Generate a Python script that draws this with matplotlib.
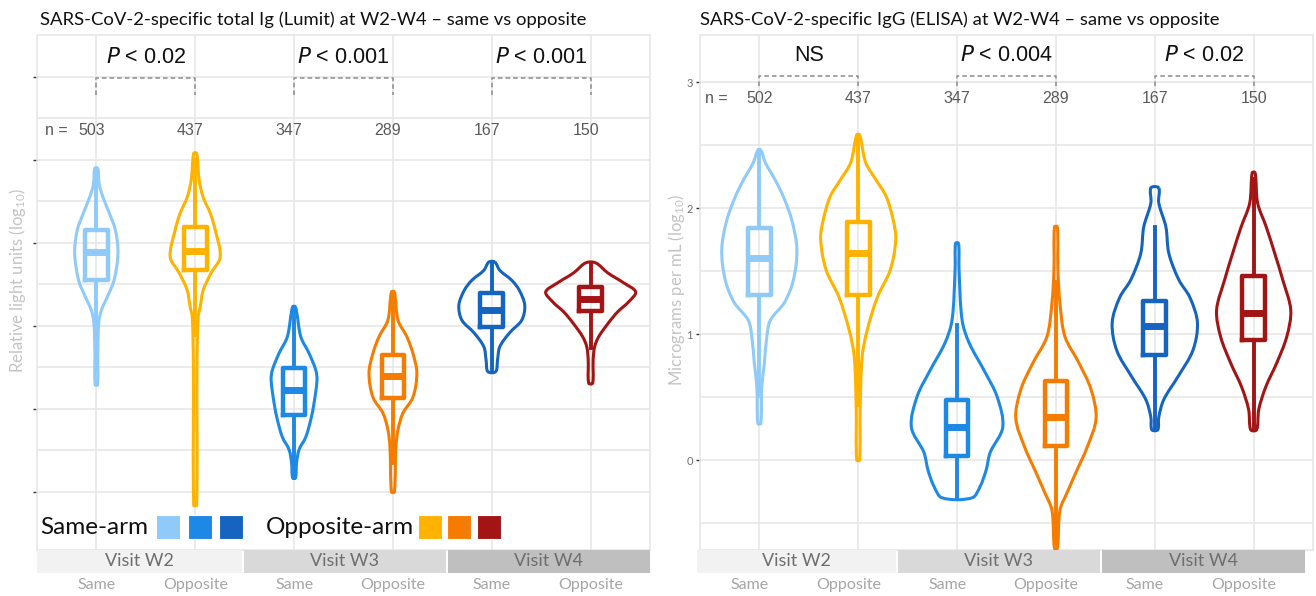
import numpy as np
import matplotlib.pyplot as plt
from matplotlib.patches import Rectangle, PathPatch
from matplotlib.path import Path
from matplotlib.transforms import blended_transform_factory

plt.rcParams["font.family"] = ["Lato", "DejaVu Sans"]
plt.rcParams["mathtext.default"] = "regular"

# ---- data ----
groups = ["Same", "Opposite", "Same", "Opposite", "Same", "Opposite"]
visits = ["Visit W2", "Visit W3", "Visit W4"]
colors = ["#90CAF9", "#FFB300", "#1E88E5", "#F57C00", "#1565C0", "#A31515"]

lumit_n = [503, 437, 347, 289, 167, 150]
lumit_p = ["$\\it{P}$ < 0.02", "$\\it{P}$ < 0.001", "$\\it{P}$ < 0.001"]
# violin outline: value (log10 RLU) and half width (category units)
lumit_vy = [
    [6.90, 6.70, 6.55, 6.36, 6.16, 5.88, 5.55, 5.35, 5.19, 5.04, 4.71, 4.29],
    [7.08, 6.76, 6.55, 6.36, 6.16, 5.83, 5.64, 5.43, 5.23, 5.11, 4.50, 2.84],
    [5.23, 4.87, 4.67, 4.47, 4.35, 4.07, 3.87, 3.66, 3.51, 3.35, 3.17],
    [5.41, 5.07, 4.87, 4.67, 4.43, 4.14, 3.95, 3.75, 3.54, 3.00],
    [5.77, 5.67, 5.55, 5.43, 5.25, 5.07, 4.92, 4.75, 4.59, 4.45],
    [5.76, 5.64, 5.52, 5.41, 5.29, 5.17, 5.04, 4.87, 4.75, 4.59, 4.31],
]
lumit_vw = [
    [.015, .03, .068, .131, .192, .219, .179, .111, .051, .025, .015, .012],
    [.015, .04, .081, .152, .202, .253, .162, .081, .051, .03, .018, .015],
    [.015, .068, .152, .219, .232, .202, .169, .118, .051, .025, .015],
    [.015, .051, .141, .202, .242, .202, .101, .051, .03, .015],
    [.03, .081, .202, .278, .333, .303, .182, .081, .058, .04],
    [.051, .172, .333, .455, .384, .273, .182, .081, .04, .025, .02],
]
lumit_q1 = [5.55, 5.67, 3.93, 4.13, 4.99, 5.18]
lumit_med = [5.89, 5.90, 4.23, 4.40, 5.19, 5.33]
lumit_q3 = [6.16, 6.19, 4.49, 4.65, 5.40, 5.47]
lumit_lo = [4.63, 4.89, 3.17, 3.35, 4.45, 4.74]
lumit_hi = [6.88, 7.00, 5.23, 5.41, 5.77, 5.76]

elisa_n = [502, 437, 347, 289, 167, 150]
elisa_p = ["NS", "$\\it{P}$ < 0.004", "$\\it{P}$ < 0.02"]
elisa_vy = [
    [2.46, 2.36, 2.22, 2.09, 1.90, 1.67, 1.43, 1.25, 1.11, 0.98, 0.77, 0.58, 0.29],
    [2.58, 2.36, 2.22, 2.09, 1.90, 1.75, 1.51, 1.29, 1.03, 0.82, 0.40, 0.00],
    [1.72, 1.51, 1.11, 0.93, 0.71, 0.50, 0.26, 0.06, -0.08, -0.21, -0.30],
    [1.85, 1.51, 1.25, 0.98, 0.77, 0.56, 0.33, 0.10, -0.08, -0.26, -0.40, -0.70],
    [2.16, 2.04, 1.85, 1.64, 1.43, 1.29, 1.09, 0.87, 0.66, 0.48, 0.34, 0.24],
    [2.28, 2.04, 1.85, 1.64, 1.43, 1.19, 0.98, 0.77, 0.58, 0.40, 0.24],
]
elisa_vw = [
    [.015, .061, .162, .243, .33, .38, .345, .254, .112, .076, .051, .025, .015],
    [.015, .076, .183, .284, .355, .38, .325, .193, .091, .04, .02, .015],
    [.015, .02, .051, .122, .274, .406, .462, .335, .294, .233, .152],
    [.015, .02, .04, .091, .233, .355, .406, .315, .213, .112, .04, .015],
    [.04, .04, .112, .142, .243, .355, .431, .385, .233, .091, .04, .03],
    [.015, .04, .127, .213, .294, .375, .335, .233, .122, .051, .03],
]
elisa_q1 = [1.31, 1.31, 0.03, 0.11, 0.83, 0.95]
elisa_med = [1.60, 1.64, 0.26, 0.34, 1.06, 1.17]
elisa_q3 = [1.84, 1.89, 0.48, 0.63, 1.26, 1.46]
elisa_lo = [0.51, 0.44, -0.30, -0.67, 0.24, 0.24]
elisa_hi = [2.46, 2.58, 1.07, 1.41, 1.85, 2.23]

W, H = 1316, 596
fig = plt.figure(figsize=(W / 100, H / 100), dpi=100)


def fx(px):
    return px / W


def fy(py):
    return 1 - py / H


def smooth_closed(pts):
    # closed curve through the outline points (chord-weighted tangents, no overshoot at tips)
    n = len(pts)
    tang = []
    for k in range(n):
        p0, p1, p2 = pts[k - 1], pts[k], pts[(k + 1) % n]
        d0 = np.hypot(*(p1 - p0))
        d1 = np.hypot(*(p2 - p1))
        tang.append((p2 - p0) / max(d0 + d1, 1e-9))
    verts = [pts[0]]
    codes = [Path.MOVETO]
    for k in range(n):
        p1, p2 = pts[k], pts[(k + 1) % n]
        d = np.hypot(*(p2 - p1))
        verts += [p1 + tang[k] * d / 3.0, p2 - tang[(k + 1) % n] * d / 3.0, p2]
        codes += [Path.CURVE4] * 3
    return Path(np.array(verts), codes)


def panel(left_px, vy, vw, q1, med, q3, lo, hi, ylim, majors, minors):
    ax = fig.add_axes([fx(left_px), fy(550), 613 / W, 515 / H])
    ax.set_xlim(-0.6, 5.6)
    ax.set_ylim(*ylim)
    ax.set_xticks(range(6))
    ax.set_xticklabels([])
    ax.set_yticks(majors)
    ax.set_yticks(minors, minor=True)
    ax.tick_params(axis="x", length=0)
    ax.tick_params(axis="y", which="major", length=3, color="#333333", width=1)
    ax.tick_params(axis="y", which="minor", length=0)
    ax.grid(True, which="both", color="#e6e6e6", lw=1.1)
    ax.set_axisbelow(True)
    for s in ax.spines.values():
        s.set_color("#e6e6e6")
        s.set_linewidth(1.1)

    sx = 99.0
    sy = 515.0 / (ylim[1] - ylim[0])
    for i in range(6):
        y = np.asarray(vy[i])
        w = np.asarray(vw[i])
        # smooth in pixel-like units so the axis scales do not distort the curve
        xs = np.concatenate([i + w, (i - w)[::-1]]) * sx
        ys = np.concatenate([y, y[::-1]]) * sy
        path = smooth_closed(np.column_stack([xs, ys]))
        path = Path(path.vertices / np.array([sx, sy]), path.codes)
        ax.add_patch(PathPatch(path, fill=False, edgecolor=colors[i], lw=2.2,
                               joinstyle="round", zorder=3))

    stats = [dict(q1=q1[i], med=med[i], q3=q3[i], whislo=lo[i], whishi=hi[i], fliers=[])
             for i in range(6)]
    bp = ax.bxp(stats, positions=range(6), widths=0.23, showcaps=False,
                patch_artist=False, manage_ticks=False, zorder=4,
                boxprops=dict(lw=3.2), whiskerprops=dict(lw=2.8), medianprops=dict(lw=5))
    for i in range(6):
        bp["boxes"][i].set_color(colors[i])
        bp["medians"][i].set_color(colors[i])
        bp["medians"][i].set_solid_capstyle("butt")
        bp["whiskers"][2 * i].set_color(colors[i])
        bp["whiskers"][2 * i + 1].set_color(colors[i])
    return ax


def bottom_strips(ax, strip_px, label_dx):
    for (x0, x1), lab, c in zip(strip_px, visits, ["#f2f2f2", "#d9d9d9", "#bfbfbf"]):
        fig.patches.append(Rectangle((fx(x0), fy(573)), fx(x1 - x0), 23 / H,
                                     transform=fig.transFigure, facecolor=c,
                                     edgecolor="none", zorder=0))
        fig.text(fx((x0 + x1) / 2), fy(561), lab, ha="center", va="center",
                 fontsize=13, color="#6e6e6e")
    tr = blended_transform_factory(ax.transData, fig.transFigure)
    for i, g in enumerate(groups):
        ax.text(i + label_dx, fy(585), g, transform=tr, ha="center", va="center",
                fontsize=11.5, color="#a6a6a6", clip_on=False)


narrow = ["Liberation Sans Narrow", "Liberation Sans", "DejaVu Sans"]

# ---- left panel: Lumit ----
ax1 = panel(37, lumit_vy, lumit_vw, lumit_q1, lumit_med, lumit_q3, lumit_lo, lumit_hi,
            (2.30, 8.506), [3, 4, 5, 6, 7, 8], [3.5, 4.5, 5.5, 6.5, 7.5])
ax1.set_yticklabels([])
fig.text(fx(18), fy(280), "Relative light units (log$_{10}$)", rotation=90, ha="center",
         va="center", color="#c4c4c4", fontsize=12)
for k in range(3):
    a, b = 2 * k, 2 * k + 1
    ax1.plot([a, a, b, b], [7.78, 7.99, 7.99, 7.78], ls=(0, (3, 2)), color="#8c8c8c",
             lw=1.1, zorder=5)
    ax1.text((a + b) / 2, 8.23, lumit_p[k], ha="center", va="center", fontsize=15.5,
             family=["Liberation Sans", "DejaVu Sans"], color="#111111")
ax1.text(-0.40, 7.36, "n =", ha="center", va="center", fontsize=11.5, color="#5a5a5a",
         family=narrow)
for i, n in enumerate(lumit_n):
    ax1.text(i - 0.05, 7.36, str(n), ha="center", va="center", fontsize=11.5,
             color="#5a5a5a", family=narrow)
bottom_strips(ax1, [(37, 242), (244, 446), (448, 650)], 0.0)
fig.text(fx(40), fy(20), "SARS-CoV-2-specific total Ig (Lumit) at W2-W4 \u2013 same vs opposite",
         ha="left", va="center", fontsize=13.3, color="#111111")

# legend drawn in the lower part of the left panel
fig.text(fx(40), fy(527), "Same-arm", ha="left", va="center", fontsize=17.5, color="#111111")
fig.text(fx(266), fy(527), "Opposite-arm", ha="left", va="center", fontsize=17.5, color="#111111")
for x0, c in zip([156, 188, 219, 418, 447, 477], [colors[0], colors[2], colors[4],
                                                  colors[1], colors[3], colors[5]]):
    fig.patches.append(Rectangle((fx(x0), fy(539)), 24 / W, 24 / H, transform=fig.transFigure,
                                 facecolor=c, edgecolor="white", lw=0.8, zorder=5))

# ---- right panel: ELISA ----
ax2 = panel(700, elisa_vy, elisa_vw, elisa_q1, elisa_med, elisa_q3, elisa_lo, elisa_hi,
            (-0.714, 3.373), [0, 1, 2, 3], [-0.5, 0.5, 1.5, 2.5])
ax2.tick_params(axis="y", labelsize=8, labelcolor="#6e6e6e", pad=2)
fig.text(fx(677), fy(290), "Micrograms per mL (log$_{10}$)", rotation=90, ha="center",
         va="center", color="#c4c4c4", fontsize=12)
for k in range(3):
    a, b = 2 * k, 2 * k + 1
    ax2.plot([a, a, b, b], [2.97, 3.05, 3.05, 2.97], ls=(0, (3, 2)), color="#8c8c8c",
             lw=1.1, zorder=5)
    ax2.text((a + b) / 2, 3.21, elisa_p[k], ha="center", va="center", fontsize=15.5,
             family=["Liberation Sans", "DejaVu Sans"], color="#111111")
ax2.text(-0.44, 2.87, "n =", ha="center", va="center", fontsize=11.5, color="#5a5a5a",
         family=narrow)
for i, n in enumerate(elisa_n):
    ax2.text(i, 2.87, str(n), ha="center", va="center", fontsize=11.5,
             color="#5a5a5a", family=narrow)
bottom_strips(ax2, [(697, 896), (898, 1100), (1102, 1305)], -0.1)
fig.text(fx(700), fy(20), "SARS-CoV-2-specific IgG (ELISA) at W2-W4 \u2013 same vs opposite",
         ha="left", va="center", fontsize=13.3, color="#111111")

fig.savefig("out.png", dpi=100)
